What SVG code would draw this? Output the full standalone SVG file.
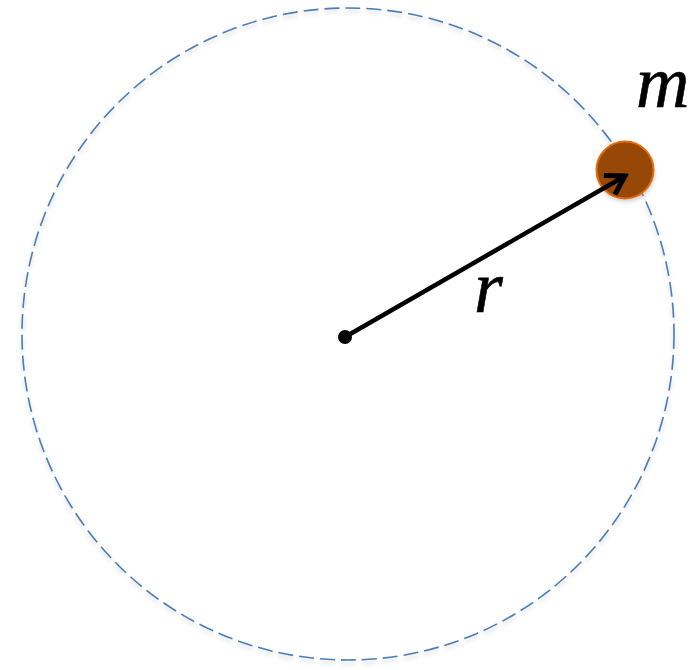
<svg xmlns="http://www.w3.org/2000/svg" width="690" height="670" viewBox="0 0 690 670">
  <defs>
    <style>
      .lbl { font-family: 'Liberation Serif', 'Times New Roman', serif; font-style: italic; font-size: 74px; fill: #000; stroke: #000; stroke-width: 0.6; }
    </style>
    <marker id="arr" viewBox="0 0 30 30" refX="26" refY="15" markerWidth="30" markerHeight="30" orient="auto" markerUnits="userSpaceOnUse">
      <path d="M8,4 L26,15 L8,26" fill="none" stroke="#000" stroke-width="5" stroke-linejoin="miter"/>
    </marker>
    <filter id="sh" x="-10%" y="-10%" width="120%" height="120%">
      <feGaussianBlur stdDeviation="2"/>
    </filter>
  </defs>
  <rect width="690" height="670" fill="#fff"/>
  <g id="orbit">
    <circle cx="348" cy="337" r="326" fill="none" stroke="#ccc" stroke-width="3" stroke-dasharray="15 6" filter="url(#sh)" opacity="0.5"/>
    <circle cx="348" cy="334" r="326" fill="none" stroke="#4a7ebb" stroke-width="1.6" stroke-dasharray="15 6"/>
  </g>
  <g id="mass">
    <circle cx="626" cy="173" r="28.5" fill="#999" filter="url(#sh)" opacity="0.5"/>
    <circle cx="625" cy="170" r="28.5" fill="#974706" stroke="#e46c0a" stroke-width="2"/>
  </g>
  <g id="connectors">
    <line x1="345" y1="337" x2="625" y2="176" stroke="#000" stroke-width="4.5" marker-end="url(#arr)"/>
  </g>
  <g id="center">
    <circle cx="345" cy="337" r="7" fill="#000"/>
  </g>
  <g id="labels">
    <text class="lbl" x="474" y="312">r</text>
    <text class="lbl" x="636" y="107">m</text>
  </g>
</svg>
